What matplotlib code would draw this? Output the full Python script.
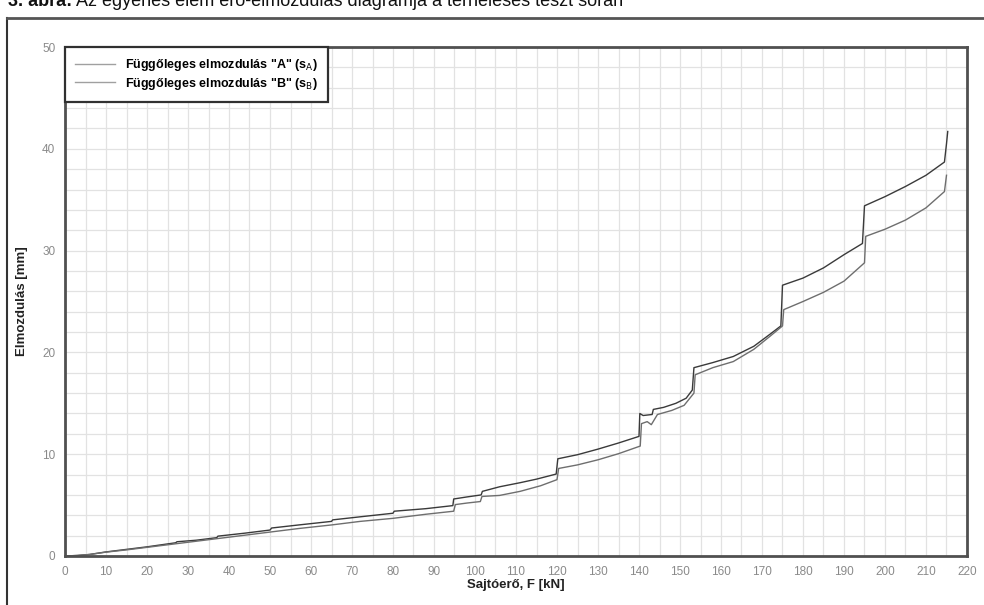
import matplotlib

matplotlib.use("Agg")
import matplotlib.pyplot as plt
from matplotlib.lines import Line2D
from matplotlib.ticker import MultipleLocator

# Függőleges elmozdulás "A" (upper curve)
force_a = [0, 3, 6, 10, 15, 20, 27, 27.3, 32, 37, 37.3, 44, 50, 50.4, 57, 65, 65.3,
           72, 80, 80.3, 88, 94.6, 94.8, 98, 101.5, 101.8, 106, 111, 115, 119.8,
           120.2, 125, 130, 135, 140, 140.2, 141, 143.2, 143.5, 146, 149, 151.5,
           153, 153.4, 158, 163, 168, 172, 174.6, 175, 180, 185, 190, 194.5, 195,
           200, 205, 210, 214.5, 215, 215.3]
disp_a = [0, 0.05, 0.15, 0.4, 0.65, 0.9, 1.3, 1.4, 1.55, 1.8, 1.95, 2.25, 2.55,
          2.75, 3.05, 3.4, 3.55, 3.85, 4.2, 4.4, 4.65, 4.95, 5.6, 5.8, 6.0, 6.35,
          6.8, 7.2, 7.55, 8.05, 9.55, 9.95, 10.5, 11.1, 11.75, 14.0, 13.8, 13.9,
          14.4, 14.6, 15.0, 15.5, 16.3, 18.5, 19.0, 19.6, 20.6, 21.8, 22.6, 26.6,
          27.3, 28.3, 29.6, 30.7, 34.4, 35.3, 36.3, 37.4, 38.7, 40.5, 41.7]

# Függőleges elmozdulás "B" (lower curve)
force_b = [0, 3, 6, 10, 15, 20, 27, 32, 37, 44, 50, 57, 65, 72, 80, 88, 94.8, 95.2,
           98, 101.3, 101.7, 106, 111, 116, 120, 120.4, 125, 130, 135, 140.3,
           140.6, 142, 143, 144.5, 148, 151, 153.4, 153.7, 158, 163, 168, 172, 175,
           175.3, 180, 185, 190, 195, 195.3, 200, 205, 210, 214.5, 215]
disp_b = [0, 0.05, 0.15, 0.38, 0.6, 0.85, 1.2, 1.45, 1.7, 2.05, 2.35, 2.7, 3.05,
          3.4, 3.7, 4.1, 4.4, 5.05, 5.2, 5.35, 5.85, 5.95, 6.35, 6.9, 7.5, 8.6,
          8.95, 9.45, 10.05, 10.8, 13.0, 13.2, 12.9, 13.9, 14.3, 14.8, 16.0, 17.8,
          18.5, 19.1, 20.3, 21.6, 22.6, 24.2, 25.0, 25.9, 27.0, 28.8, 31.4, 32.1,
          33.0, 34.2, 35.8, 37.4]

label_a = 'Függőleges elmozdulás "A" (s$_{\\rm A}$)'
label_b = 'Függőleges elmozdulás "B" (s$_{\\rm B}$)'
caption_bold = "3. ábra:"
caption_rest = " Az egyenes elem erő-elmozdulás diagramja a terheléses teszt során"

plt.rcParams["font.family"] = ["Liberation Sans", "DejaVu Sans"]

fig = plt.figure(figsize=(9.84, 6.05), dpi=100)
ax = fig.add_axes([65 / 984, 1 - 556 / 605, 902 / 984, 509 / 605])

ax.plot(force_a, disp_a, color="#3a3a3a", linewidth=1.0, label=label_a)
ax.plot(force_b, disp_b, color="#6e6e6e", linewidth=1.0, label=label_b)

ax.set_xlim(0, 220)
ax.set_ylim(0, 50)
ax.xaxis.set_major_locator(MultipleLocator(10))
ax.xaxis.set_minor_locator(MultipleLocator(5))
ax.yaxis.set_major_locator(MultipleLocator(10))
ax.yaxis.set_minor_locator(MultipleLocator(2))
ax.grid(True, which="both", color="#e2e2e2", linewidth=0.9)
ax.set_axisbelow(True)
ax.tick_params(which="both", length=0, pad=7, labelsize=8.5, labelcolor="#8a8a8a")

for spine in ax.spines.values():
    spine.set_color("#505050")
    spine.set_linewidth(2)

ax.set_xlabel("Sajtóerő, F [kN]", fontsize=9.5, fontweight="bold", color="#222222", labelpad=1)
ax.set_ylabel("Elmozdulás [mm]", fontsize=9.5, fontweight="bold", color="#222222", labelpad=10)

leg = ax.legend(loc="upper left", bbox_to_anchor=(0, 1), borderaxespad=0,
                fancybox=False, prop={"weight": "bold", "size": 9},
                handlelength=3.2, borderpad=0.8, labelspacing=0.2,
                framealpha=1)
leg.get_frame().set_edgecolor("#303030")
leg.get_frame().set_linewidth(1.6)
for handle in leg.get_lines():
    handle.set_color("#a0a0a0")

# outer frame around the figure (left and top edges visible)
fig.add_artist(Line2D([7 / 984, 7 / 984], [0, 1 - 18 / 605], color="#333333", linewidth=1.5))
fig.add_artist(Line2D([7 / 984, 1], [1 - 18 / 605, 1 - 18 / 605], color="#555555", linewidth=2))

# caption, cut off by the top edge
t1 = fig.text(8 / 984, 1 - 6 / 605, caption_bold, fontsize=13, fontweight="bold",
              va="baseline", ha="left", color="#111111")
fig.canvas.draw()
bb = t1.get_window_extent()
fig.text(bb.x1 / fig.bbox.width, 1 - 6 / 605, caption_rest, fontsize=13,
         va="baseline", ha="left", color="#111111")

fig.savefig("out.png", dpi=100)
